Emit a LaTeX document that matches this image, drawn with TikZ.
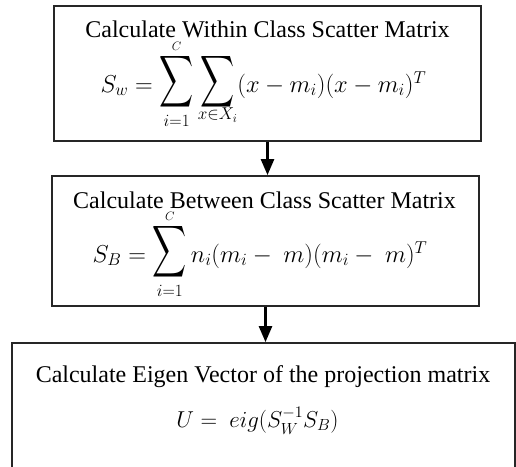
\RequirePackage{fix-cm}
\documentclass[tikz,border=0pt]{standalone}
\usepackage{amsmath}
\usepackage{exscale}
\usepackage{graphicx}
\usepackage{fontspec}
\setmainfont{Liberation Serif}
\usetikzlibrary{arrows.meta}
\newcommand\tallsum[2]{\mathop{\raisebox{4pt}{$\vcenter{\hbox{\scalebox{0.95}[1.45]{$\displaystyle\sum$}}}$}}\limits_{\raisebox{6pt}[0pt][0pt]{$\scriptstyle #1$}}^{\raisebox{-8pt}[0pt][0pt]{$\scriptscriptstyle #2$}}}
\tikzset{
  box/.style={draw=black!85, line width=1.8pt, rectangle, inner sep=0pt},
  title/.style={anchor=base, inner sep=0pt, font=\fontsize{24}{28}\selectfont},
  formula/.style={anchor=base, inner sep=0pt, font=\fontsize{24.5}{28}\selectfont},
  formulasmall/.style={anchor=base, inner sep=0pt, font=\fontsize{23}{28}\selectfont},
  flow/.style={line width=2.6pt, -{Triangle[width=13pt,length=16pt]}}
}
\begin{document}
\begin{tikzpicture}[x=1pt,y=-1pt]
\clip (0,0) rectangle (516,466);
\node[box, minimum width=427pt, minimum height=135pt] (b1) at (267.5,73.5) {};
\node[box, minimum width=427pt, minimum height=130pt] (b2) at (265.5,241) {};
\node[box, minimum width=503pt, minimum height=160pt] (b3) at (263.5,423) {};
\node[title] (t1) at (267.5,37.5) {Calculate Within Class Scatter Matrix};
\node[formula] (f1) at (263.5,92) {$S_w = \tallsum{i=1}{C}\tallsum{x\in X_i}{}(x-m_i)(x-m_i)^T$};
\node[title] (t2) at (264.5,208) {Calculate Between Class Scatter Matrix};
\node[formula] (f2) at (260,262) {$S_B = \tallsum{i=1}{C} n_i(m_i-\ m)(m_i-\ m)^T$};
\node[title] (t3) at (263,382) {Calculate Eigen Vector of the projection matrix};
\node[formulasmall] (f3) at (257.5,427) {$U =\ eig(S_W^{-1}S_B)$};
\draw[flow] (b1.south) -- (b1.south |- b2.north);
\draw[flow] (b2.south) -- (b2.south |- b3.north);
\end{tikzpicture}
\end{document}
